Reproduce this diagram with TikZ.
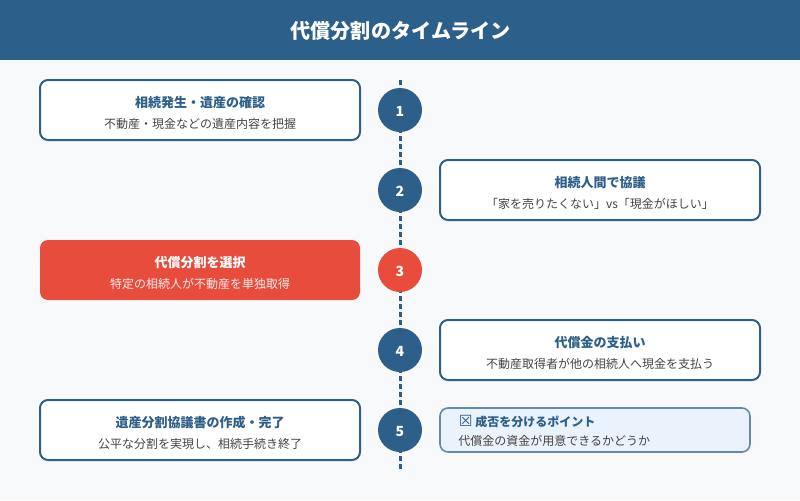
\documentclass[tikz,border=0pt]{standalone}
\usepackage{fontspec}
\setmainfont{Noto Sans CJK JP}
\newfontfamily\symfont{DejaVu Sans}
\usepackage{xcolor}
\definecolor{navy}{HTML}{2C5F8A}
\definecolor{alert}{HTML}{E74C3C}
\definecolor{paper}{HTML}{F8F9FA}
\definecolor{bodygray}{HTML}{444444}
\definecolor{notefill}{HTML}{EAF2FB}
\definecolor{noteline}{HTML}{5F8AAD}
\usetikzlibrary{calc}

\tikzset{
    stepbox/.style={draw=navy, line width=1.5pt, fill=white, rounded corners=6pt,
        minimum width=240pt, minimum height=45pt, inner sep=0pt},
    alertbox/.style={stepbox, draw=none, fill=alert},
    notebox/.style={draw=noteline, line width=1.2pt, fill=notefill, rounded corners=6pt,
        minimum width=232.5pt, minimum height=33pt, inner sep=0pt},
    dot/.style={circle, fill=navy, minimum size=33pt, inner sep=0pt, text=white,
        text height=9.25pt, font=\fontsize{10.5}{12}\selectfont\bfseries},
    alertdot/.style={dot, fill=alert},
    headtext/.style={text=navy, font=\fontsize{9.75}{12}\selectfont\bfseries},
    subtext/.style={text=bodygray, font=\fontsize{9}{11}\selectfont},
}

\begin{document}
\begin{tikzpicture}[x=0.75pt, y=-0.75pt]
    \useasboundingbox (0,0) rectangle (800,500);
    \fill[paper] (0,0) rectangle (800,500);

    % Title band
    \node[fill=navy, minimum width=600pt, minimum height=45pt, inner sep=0pt] (band) at (400,30) {};
    \node[text=white, font=\fontsize{15.1}{18}\selectfont\bfseries] (title) at (400.5,31) {代償分割のタイムライン};

    % Time axis
    \coordinate (axistop) at (400,80);
    \coordinate (axisend) at (400,470);
    \draw[navy, line width=2.25pt, dash pattern=on 3.75pt off 2.25pt] (axistop) -- (axisend);

    % Step circles
    \node[dot] (dot1) at (400,110) {1};
    \node[dot] (dot2) at (400,190) {2};
    \node[alertdot] (dot3) at (400,270) {3};
    \node[dot] (dot4) at (400,350) {4};
    \node[dot] (dot5) at (400,430) {5};

    % Step boxes
    \node[stepbox] (box1) at (200,110) {};
    \node[headtext] (head1) at (200,103) {相続発生・遺産の確認};
    \node[subtext] (sub1) at (200,124) {不動産・現金などの遺産内容を把握};

    \node[stepbox] (box2) at (600,190) {};
    \node[headtext] (head2) at (600,183) {相続人間で協議};
    \node[subtext] (sub2) at (600,204) {「家を売りたくない」vs「現金がほしい」};

    \node[alertbox] (box3) at (200,270) {};
    \node[headtext, text=white] (head3) at (200,263) {代償分割を選択};
    \node[subtext, text=white!90!alert] (sub3) at (200,284) {特定の相続人が不動産を単独取得};

    \node[stepbox] (box4) at (600,350) {};
    \node[headtext] (head4) at (600,343) {代償金の支払い};
    \node[subtext] (sub4) at (600,364) {不動産取得者が他の相続人へ現金を支払う};

    \node[stepbox] (box5) at (200,430) {};
    \node[headtext] (head5) at (200,423) {遺産分割協議書の作成・完了};
    \node[subtext] (sub5) at (200,444) {公平な分割を実現し、相続手続き終了};

    % Note beside step 5
    \node[notebox] (note) at (595,430) {};
    \node[headtext, anchor=west, inner sep=0pt, font=\fontsize{9}{11}\selectfont\bfseries] (notehead) at (458.5,422) {{\symfont\mdseries\fontsize{11.5}{11}\selectfont ☒} 成否を分けるポイント};
    \node[subtext, anchor=west, inner sep=0pt] (notesub) at (458,441) {代償金の資金が用意できるかどうか};
\end{tikzpicture}
\end{document}
